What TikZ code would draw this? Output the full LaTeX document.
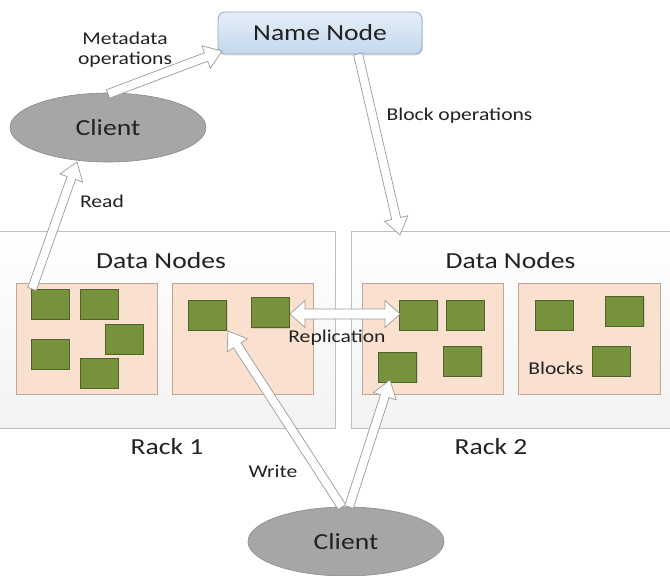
\documentclass[tikz,border=0pt]{standalone}
\usepackage{fontspec}
\setmainfont{Carlito}[FakeStretch=1.2]
\usetikzlibrary{calc,shapes.geometric,shadows}
\definecolor{txt}{HTML}{222222}
\definecolor{nnborder}{HTML}{8FA8C4}
\definecolor{nntop}{HTML}{E6EFF8}
\definecolor{nnbot}{HTML}{C3D7EC}
\definecolor{clfill}{HTML}{A6A6A6}
\definecolor{clborder}{HTML}{8A8A8A}
\definecolor{rackborder}{HTML}{BFBFBF}
\definecolor{peach}{HTML}{FAE1CF}
\definecolor{peachborder}{HTML}{BFA595}
\definecolor{blockgreen}{HTML}{76923C}
\definecolor{blockborder}{HTML}{4F6228}
\definecolor{arrowborder}{HTML}{9A9A9A}
\tikzset{
  bigtext/.style={font=\fontsize{23}{26}\selectfont, text=txt},
  smalltext/.style={font=\fontsize{18}{20}\selectfont, text=txt, align=center},
  namebox/.style={rectangle, rounded corners=7pt, draw=nnborder, line width=0.8pt,
     top color=nntop, bottom color=nnbot, minimum width=204pt, minimum height=42pt,
     bigtext, drop shadow={opacity=0.2, shadow xshift=1pt, shadow yshift=-1.5pt}},
  clientell/.style={ellipse, draw=clborder, fill=clfill, line width=0.6pt,
     minimum width=196pt, minimum height=69pt, inner sep=0pt, bigtext},
  rackbox/.style={rectangle, draw=rackborder, line width=0.8pt, top color=white,
     bottom color=black!5, inner sep=0pt},
  innerbox/.style={rectangle, draw=peachborder, fill=peach, line width=0.6pt,
     minimum width=141pt, minimum height=111pt, inner sep=0pt,
     drop shadow={opacity=0.15, shadow xshift=1pt, shadow yshift=-1pt}},
  blockbox/.style={rectangle, draw=blockborder, fill=blockgreen, line width=0.6pt,
     minimum width=38pt, minimum height=30pt, inner sep=0pt,
     drop shadow={opacity=0.25, shadow xshift=1pt, shadow yshift=-1pt}},
  arrowsty/.style={draw=arrowborder, fill=white, line width=0.7pt, line join=miter}
}
% hollow block arrow from coordinate #1 to coordinate #2
\newcommand\blkarrow[2]{%
  \coordinate (bac) at ($(#2)!17pt!(#1)$);
  \draw[arrowsty] ($(#1)!4.5pt!90:(#2)$) -- ($(bac)!4.5pt!90:(#2)$) -- ($(bac)!12pt!90:(#2)$)
    -- (#2) -- ($(bac)!12pt!-90:(#2)$) -- ($(bac)!4.5pt!-90:(#2)$) -- ($(#1)!4.5pt!-90:(#2)$) -- cycle;}
% hollow double-headed block arrow
\newcommand\dblarrow[2]{%
  \coordinate (dbb) at ($(#2)!15pt!(#1)$);
  \coordinate (dba) at ($(#1)!15pt!(#2)$);
  \draw[arrowsty] (#1) -- ($(dba)!13.5pt!90:(#2)$) -- ($(dba)!5pt!90:(#2)$)
    -- ($(dbb)!5pt!-90:(#1)$) -- ($(dbb)!13.5pt!-90:(#1)$) -- (#2)
    -- ($(dbb)!13.5pt!90:(#1)$) -- ($(dbb)!5pt!90:(#1)$)
    -- ($(dba)!5pt!-90:(#2)$) -- ($(dba)!13.5pt!-90:(#2)$) -- cycle;}
\begin{document}
\begin{tikzpicture}[x=1pt, y=-1pt]
\useasboundingbox (0,0) rectangle (670,576);
\fill[white] (0,0) rectangle (670,576);

% racks
\node[rackbox, minimum width=338pt, minimum height=197pt] (rack1) at (166,329.5) {};
\node[rackbox, minimum width=322pt, minimum height=197pt] (rack2) at (512,329.5) {};
\node[bigtext] (dn1) at (161,261) {Data Nodes};
\node[bigtext] (dn2) at (510.5,261) {Data Nodes};
\node[bigtext] (r1) at (167,447) {Rack 1};
\node[bigtext] (r2) at (491,447) {Rack 2};

% inner boxes
\node[innerbox] (in1) at (86.5,338.5) {};
\node[innerbox] (in2) at (242.5,338.5) {};
\node[innerbox] (in3) at (432.5,338.5) {};
\node[innerbox, minimum width=142pt] (in4) at (589,338.5) {};

% blocks
\node[blockbox] (b1) at (50,304) {};
\node[blockbox] (b2) at (99,304) {};
\node[blockbox] (b3) at (124,339) {};
\node[blockbox] (b4) at (50,354) {};
\node[blockbox] (b5) at (99,373) {};
\node[blockbox] (b6) at (207.5,315) {};
\node[blockbox] (b7) at (270,312.5) {};
\node[blockbox] (b8) at (418.5,315) {};
\node[blockbox] (b9) at (465,315) {};
\node[blockbox] (b10) at (397.5,367) {};
\node[blockbox] (b11) at (462.5,361) {};
\node[blockbox] (b12) at (554,315) {};
\node[blockbox] (b13) at (624.5,311) {};
\node[blockbox] (b14) at (611,361) {};
\node[smalltext] (blk) at (556,368) {Blocks};

% name node and clients
\node[namebox] (nn) at (320,33) {Name Node};
\node[clientell] (c1) at (108,127.5) {Client};
\node[clientell] (c2) at (346,541.5) {Client};

% labels
\node[smalltext] (lmeta) at (125,50) {Metadata\\operations};
\node[smalltext] (lread) at (102,201) {Read};
\node[smalltext] (lblock) at (459.5,116) {Block operations};
\node[smalltext] (lrep) at (337,338) {Replication};
\node[smalltext] (lwrite) at (273,471) {Write};

% arrow end points
\coordinate (readtail) at (32,289);
\coordinate (readtip) at (77,162);
\coordinate (metatail) at (108,94);
\coordinate (metatip) at (222,51);
\coordinate (blocktail) at (358,54);
\coordinate (blocktip) at (400,235);
\coordinate (repl) at (290,314);
\coordinate (repr) at (400,314);
\coordinate (wtail1) at (342,507);
\coordinate (wtip1) at (228,331);
\coordinate (wtail2) at (349,507);
\coordinate (wtip2) at (390,380);

\blkarrow{readtail}{readtip}
\blkarrow{metatail}{metatip}
\blkarrow{blocktail}{blocktip}
\dblarrow{repl}{repr}
\blkarrow{wtail1}{wtip1}
\blkarrow{wtail2}{wtip2}
\end{tikzpicture}
\end{document}
